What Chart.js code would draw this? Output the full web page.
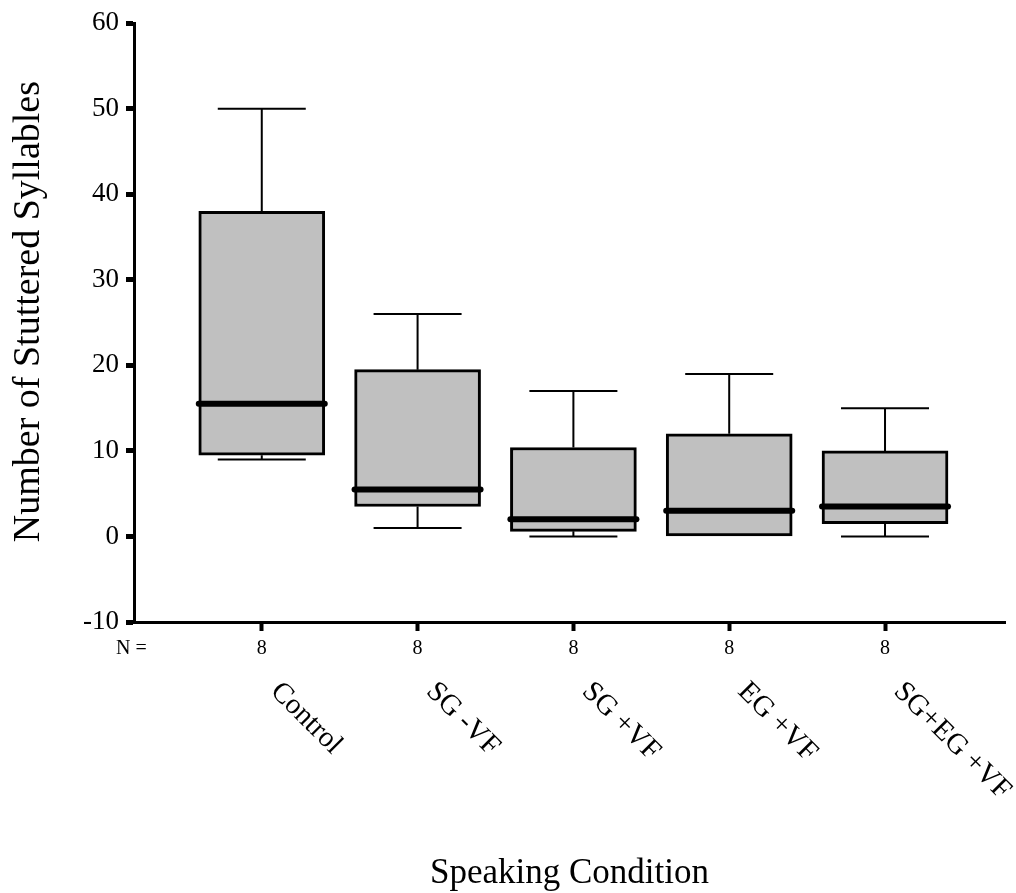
<!DOCTYPE html>
<html lang="en">
<head>
<meta charset="UTF-8">
<title>Number of Stuttered Syllables by Speaking Condition</title>
<script src="https://cdn.jsdelivr.net/npm/chart.js"></script>
<style>
  html, body { margin: 0; padding: 0; background: #fff; }
  #wrap { width: 1016px; height: 893px; }
</style>
</head>
<body>
<div id="wrap"><canvas id="boxChart"></canvas></div>
<script>
// box plot values
const conditions = ['Control', 'SG -VF', 'SG +VF', 'EG +VF', 'SG+EG +VF'];
const groupN = [8, 8, 8, 8, 8];
const whiskerLow = [9, 1, 0, 0, 0];
const quartile1 = [9.5, 3.5, 0.6, 0, 1.5];
const medians = [15.5, 5.5, 2, 3, 3.5];
const quartile3 = [38, 19.5, 10.4, 12, 10];
const whiskerHigh = [50, 26, 17, 19, 15];

const serif = '"Liberation Serif", "Times New Roman", serif';
const positions = conditions.map((c, i) => i + 1);

// whiskers, medians and the extra texts, all placed through the chart scales
const boxExtras = {
    id: 'boxExtras',
    beforeDatasetsDraw(chart) {
        const { ctx, scales: { x, y } } = chart;
        ctx.save();
        ctx.strokeStyle = '#000';
        ctx.lineWidth = 2;
        positions.forEach((p, i) => {
            const cx = x.getPixelForValue(p);
            const half = 44;
            [[whiskerHigh[i], quartile3[i]], [whiskerLow[i], quartile1[i]]].forEach(([w, q]) => {
                if (w === q) return;
                const wy = y.getPixelForValue(w);
                const qy = y.getPixelForValue(q);
                ctx.beginPath();
                ctx.moveTo(cx, qy);
                ctx.lineTo(cx, wy);
                ctx.moveTo(cx - half, wy);
                ctx.lineTo(cx + half, wy);
                ctx.stroke();
            });
        });
        ctx.restore();
    },
    afterDatasetsDraw(chart) {
        const { ctx, scales: { x, y } } = chart;
        ctx.save();
        ctx.strokeStyle = '#000';
        ctx.lineWidth = 6;
        ctx.lineCap = 'round';
        positions.forEach((p, i) => {
            const cx = x.getPixelForValue(p);
            const my = y.getPixelForValue(medians[i]);
            ctx.beginPath();
            ctx.moveTo(cx - 63, my);
            ctx.lineTo(cx + 63, my);
            ctx.stroke();
        });
        ctx.restore();
    },
    afterDraw(chart) {
        const { ctx, chartArea, scales: { x } } = chart;
        ctx.save();
        ctx.fillStyle = '#000';

        ctx.font = `20px ${serif}`;
        ctx.textAlign = 'left';
        ctx.textBaseline = 'alphabetic';
        ctx.fillText('N =', 116, x.top + 32);

        ctx.font = `29px ${serif}`;
        ctx.textBaseline = 'middle';
        conditions.forEach((c, i) => {
            ctx.save();
            ctx.translate(x.getPixelForValue(positions[i]) + 13, x.top + 65);
            ctx.rotate(Math.PI / 4);
            ctx.fillText(c, 0, 0);
            ctx.restore();
        });

        ctx.font = `38px ${serif}`;
        ctx.textAlign = 'center';
        ctx.save();
        ctx.translate(29, (chartArea.top + chartArea.bottom) / 2 - 11);
        ctx.rotate(-Math.PI / 2);
        ctx.fillText('Number of Stuttered Syllables', 0, 0);
        ctx.restore();

        ctx.restore();
    }
};

const ctx = document.getElementById('boxChart').getContext('2d');
new Chart(ctx, {
    type: 'bar',
    data: {
        datasets: [{
            label: 'Interquartile range',
            data: positions.map((p, i) => ({ x: p, y: [quartile1[i], quartile3[i]] })),
            backgroundColor: '#c0c0c0',
            borderColor: '#000',
            borderWidth: 3,
            borderSkipped: false,
            barThickness: 126
        }]
    },
    options: {
        responsive: true,
        maintainAspectRatio: false,
        animation: false,
        layout: { padding: { top: 23, right: 11, left: 0, bottom: 0 } },
        plugins: {
            legend: { display: false },
            tooltip: { enabled: false }
        },
        scales: {
            x: {
                type: 'linear',
                min: 0.18,
                max: 5.77,
                offset: false,
                afterBuildTicks: scale => { scale.ticks = positions.map(v => ({ value: v })); },
                afterFit: scale => { scale.height = 271; },
                ticks: {
                    callback: (v, i) => String(groupN[i]),
                    color: '#000',
                    padding: 6,
                    maxRotation: 0,
                    font: { family: serif, size: 20 }
                },
                grid: {
                    offset: false,
                    drawOnChartArea: false,
                    color: '#000',
                    tickLength: 9,
                    tickWidth: 4
                },
                border: { color: '#000', width: 3 },
                title: {
                    display: true,
                    text: 'Speaking Condition',
                    color: '#000',
                    font: { family: serif, size: 35, lineHeight: 1 },
                    padding: { top: 0, bottom: 2 }
                }
            },
            y: {
                min: -10,
                max: 60,
                afterFit: scale => { scale.width = 134; },
                ticks: {
                    stepSize: 10,
                    color: '#000',
                    padding: 7,
                    font: { family: serif, size: 27 }
                },
                grid: {
                    drawOnChartArea: false,
                    color: '#000',
                    tickLength: 8,
                    tickWidth: 5
                },
                border: { color: '#000', width: 3 }
            }
        }
    },
    plugins: [boxExtras]
});
</script>
</body>
</html>
